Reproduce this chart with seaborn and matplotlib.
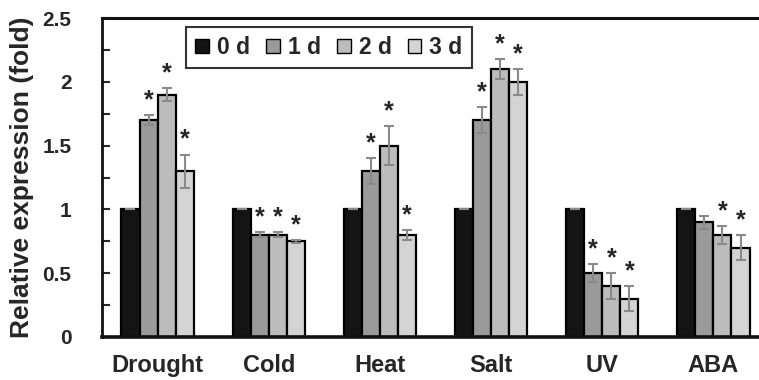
import pandas as pd
import seaborn as sns
import matplotlib.pyplot as plt
from matplotlib.ticker import MultipleLocator

# Data
conditions = ['Drought', 'Cold', 'Heat', 'Salt', 'UV', 'ABA']
days = ['0 d', '1 d', '2 d', '3 d']
values = {
    '0 d': [1.0, 1.0, 1.0, 1.0, 1.0, 1.0],
    '1 d': [1.70, 0.80, 1.30, 1.70, 0.50, 0.90],
    '2 d': [1.90, 0.80, 1.50, 2.10, 0.40, 0.80],
    '3 d': [1.30, 0.75, 0.80, 2.00, 0.30, 0.70],
}
errors = {
    '0 d': [0.0, 0.0, 0.0, 0.0, 0.0, 0.0],
    '1 d': [0.04, 0.02, 0.10, 0.10, 0.07, 0.05],
    '2 d': [0.05, 0.02, 0.15, 0.08, 0.10, 0.07],
    '3 d': [0.13, 0.01, 0.04, 0.10, 0.10, 0.10],
}
# significance marks
signif = {
    '0 d': [False] * 6,
    '1 d': [True, True, True, True, True, False],
    '2 d': [True] * 6,
    '3 d': [True] * 6,
}
yticks = [0, 0.5, 1, 1.5, 2, 2.5]
ytick_labels = ['0', '0.5', '1', '1.5', '2', '2.5']
colors = ['#141414', '#9a9a9a', '#bcbcbc', '#d4d4d4']

rows = []
for d in days:
    for c, v in zip(conditions, values[d]):
        rows.append({'condition': c, 'day': d, 'value': v})
df = pd.DataFrame(rows)

sns.set_style('white')
plt.rcParams['font.family'] = ['Liberation Sans', 'DejaVu Sans']
plt.rcParams['font.weight'] = 'bold'

fig = plt.figure(figsize=(7.59, 3.8), dpi=100)
ax = fig.add_axes([102 / 759, 43 / 380, 1 - 102 / 759, 319 / 380])

sns.barplot(data=df, x='condition', y='value', hue='day', palette=colors,
            width=0.65, edgecolor='black', linewidth=1.6, errorbar=None,
            saturation=1, ax=ax)

# error bars and asterisks on top of each bar
for d, cont in zip(days, ax.containers):
    for bar, err, star in zip(cont.patches, errors[d], signif[d]):
        xc = bar.get_x() + bar.get_width() / 2
        h = bar.get_height()
        ax.errorbar(xc, h, yerr=err, color='#8a8a8a', elinewidth=1.5,
                    capsize=3.5, capthick=1.5, zorder=5)
        if star:
            ax.annotate('*', (xc, h + err), xytext=(0, 2), textcoords='offset points',
                        ha='center', va='bottom', fontsize=18, fontweight='bold')

ax.set_xlim(-0.5, 5.41)
ax.set_ylim(0, 2.5)
ax.set_yticks(yticks)
ax.set_yticklabels(ytick_labels)
ax.yaxis.set_minor_locator(MultipleLocator(0.25))
ax.tick_params(axis='y', which='both', direction='in', length=6, width=1.5,
               left=True, labelsize=15, pad=22)
ax.tick_params(axis='x', length=0, labelsize=17, pad=12)
for lab in ax.get_xticklabels() + ax.get_yticklabels():
    lab.set_fontweight('bold')

ax.set_xlabel('')
ax.set_ylabel('Relative expression (fold)', fontsize=19, fontweight='bold', labelpad=6)

for side in ['left', 'top', 'bottom']:
    ax.spines[side].set_visible(True)
    ax.spines[side].set_color('#111111')
ax.spines['left'].set_linewidth(2)
ax.spines['top'].set_linewidth(2.2)
ax.spines['bottom'].set_linewidth(2.6)
ax.spines['right'].set_visible(False)

leg = ax.legend(ncol=4, loc='upper left', bbox_to_anchor=(0.128, 0.972),
                borderaxespad=0, frameon=True, fancybox=False, edgecolor='black',
                handlelength=0.6, handleheight=0.6, handletextpad=0.35,
                columnspacing=0.7, borderpad=0.4,
                prop={'size': 16.5, 'weight': 'bold'})
leg.get_frame().set_linewidth(1.5)
for h in leg.legend_handles:
    h.set_edgecolor('black')
    h.set_linewidth(1)

fig.savefig('out.png', dpi=100)
